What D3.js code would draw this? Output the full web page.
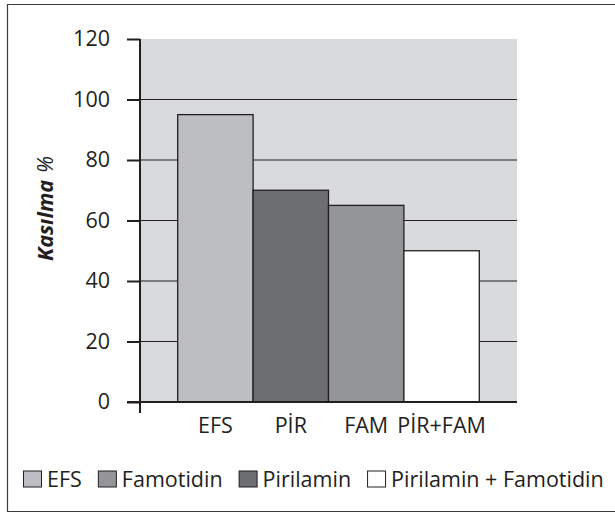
<!DOCTYPE html>
<html><head><meta charset="utf-8">
<script src="https://cdn.jsdelivr.net/npm/d3@7"></script>
<style>
html,body{margin:0;padding:0;background:#fff;}
svg{display:block;font-family:"Open Sans",sans-serif;}
</style></head>
<body>
<svg id="c" width="615" height="514"></svg>
<script>
const categories = ["EFS", "PİR", "FAM", "PİR+FAM"];
const values = [95, 70, 65, 50];
const barColors = ["#bdbec1", "#6d6e71", "#939598", "#ffffff"];
const yTicks = [0, 20, 40, 60, 80, 100, 120];
const legendLabels = ["EFS", "Famotidin", "Pirilamin", "Pirilamin + Famotidin"];
const legendColors = ["#bdbec1", "#939598", "#6d6e71", "#ffffff"];
const yTitle = "Kasılma";
const yTitleUnit = "%";

const ink = "#231f20";
const fs = "21.5px";
const svg = d3.select("#c");

// outer frame
svg.append("path")
  .attr("d", "M616,4.5 H7.5 V511.5 H616")
  .attr("fill", "none").attr("stroke", "#3a3a3a").attr("stroke-width", 1.2);

const L = 140, R = 517, T = 39, B = 402;
const x = d3.scaleBand().domain(categories).range([L, R]).paddingInner(0).paddingOuter(0.5);
const y = d3.scaleLinear().domain([0, 120]).range([B, T]);

// plot background
svg.append("rect").attr("x", L).attr("y", T).attr("width", R - L).attr("height", B - T)
  .attr("fill", "#d9dadb");

// gridlines
svg.append("g").selectAll("line").data(yTicks.filter(d => d > 0 && d < 120)).join("line")
  .attr("x1", L).attr("x2", R)
  .attr("y1", d => y(d)).attr("y2", d => y(d))
  .attr("stroke", ink).attr("stroke-width", 1.2);

// bars
svg.append("g").selectAll("rect").data(values).join("rect")
  .attr("x", (d, i) => x(categories[i]))
  .attr("y", d => y(d))
  .attr("width", x.bandwidth())
  .attr("height", d => y(0) - y(d))
  .attr("fill", (d, i) => barColors[i])
  .attr("stroke", ink).attr("stroke-width", 1.3);

// y axis
const yAxis = svg.append("g").attr("transform", `translate(${L},0)`)
  .call(d3.axisLeft(y).tickValues(yTicks).tickSize(13).tickPadding(17).tickFormat(d3.format("d")));
yAxis.select(".domain").remove();
yAxis.selectAll(".tick line").attr("stroke", ink).attr("stroke-width", 2);
yAxis.selectAll(".tick text").attr("fill", ink).style("font-size", fs)
  .style("font-family", "'Open Sans',sans-serif");
svg.append("line").attr("x1", L).attr("x2", L).attr("y1", T).attr("y2", B + 11)
  .attr("stroke", ink).attr("stroke-width", 2);
// x axis line
svg.append("line").attr("x1", L - 13).attr("x2", R).attr("y1", B).attr("y2", B)
  .attr("stroke", ink).attr("stroke-width", 2);

// x labels
svg.append("g").selectAll("text").data(categories).join("text")
  .attr("x", d => x(d) + x.bandwidth() / 2)
  .attr("y", 433)
  .attr("text-anchor", "middle")
  .attr("fill", ink).style("font-size", fs)
  .text(d => d);

// y title
const yt = svg.append("text")
  .attr("transform", "translate(53,261) rotate(-90)")
  .attr("fill", ink).style("font-size", fs).style("font-style", "italic");
yt.append("tspan").style("font-weight", "bold").text(yTitle);
yt.append("tspan").attr("dx", 7).text(yTitleUnit);

// legend
const lg = svg.append("g");
let lx = 23;
legendLabels.forEach((lab, i) => {
  const g = lg.append("g");
  g.append("rect").attr("x", lx + 0.5).attr("y", 471).attr("width", 18).attr("height", 16)
    .attr("fill", legendColors[i]).attr("stroke", ink).attr("stroke-width", 1);
  const t = g.append("text").attr("x", lx + 24).attr("y", 487)
    .attr("fill", ink).style("font-size", fs).text(lab);
  lx += 24 + t.node().getComputedTextLength() + 16;
});
</script>
</body></html>
